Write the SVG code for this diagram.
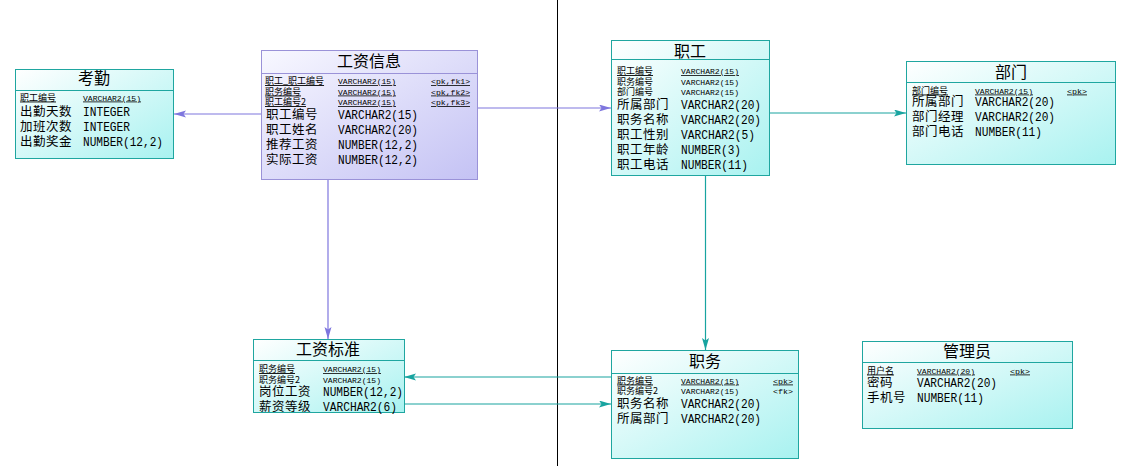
<svg xmlns="http://www.w3.org/2000/svg" width="1126" height="466" viewBox="0 0 1126 466">
<style>
.box{fill:url(#gc);stroke:#1fa6a0;stroke-width:1}
.boxp{fill:url(#gp);stroke:#9a92d8;stroke-width:1}
.dv{stroke:#1fa6a0;stroke-width:1}
.dvp{stroke:#9a92d8;stroke-width:1}
.t{font-family:"Noto Sans CJK SC",sans-serif;font-size:16px;fill:#000;text-anchor:middle}
.s{font-family:"Noto Sans CJK SC",sans-serif;font-size:9px;fill:#000}
.st{font-family:"Liberation Mono",monospace;font-size:8px;fill:#000}
.b{font-family:"Noto Sans CJK SC",sans-serif;font-size:12.5px;fill:#000;letter-spacing:0.5px}
.bt{font-family:"Liberation Mono",monospace;font-size:12px;fill:#000}
.u{text-decoration:underline}
.lp{stroke:#7e76de;stroke-width:1.2;fill:none}
.lt{stroke:#18a4a0;stroke-width:1.2;fill:none}
</style>
<defs>
<linearGradient id="gc" x1="0" y1="0" x2="1" y2="1">
<stop offset="0" stop-color="#ffffff"/>
<stop offset="1" stop-color="#a8f2f0"/>
</linearGradient>
<linearGradient id="gp" x1="0" y1="0" x2="1" y2="1">
<stop offset="0" stop-color="#f8f8ff"/>
<stop offset="1" stop-color="#c4c2f4"/>
</linearGradient>
<marker id="ap" markerUnits="userSpaceOnUse" markerWidth="13" markerHeight="8" refX="12" refY="3.5" orient="auto">
<path d="M0,0 L12,3.5 L0,7 L2.5,3.5 Z" fill="#7e76de"/>
</marker>
<marker id="at" markerUnits="userSpaceOnUse" markerWidth="13" markerHeight="8" refX="12" refY="3.5" orient="auto">
<path d="M0,0 L12,3.5 L0,7 L2.5,3.5 Z" fill="#18a4a0"/>
</marker>
</defs>
<rect width="1126" height="466" fill="#ffffff"/>
<line x1="557.5" y1="0" x2="557.5" y2="466" stroke="#000" stroke-width="1"/>

<g id="connectors">
<line class="lp" x1="261" y1="114" x2="174" y2="114" marker-end="url(#ap)"/>
<line class="lp" x1="477" y1="108" x2="611" y2="108" marker-end="url(#ap)"/>
<line class="lp" x1="328" y1="179" x2="328" y2="339" marker-end="url(#ap)"/>
<line class="lt" x1="769" y1="113" x2="906" y2="113" marker-end="url(#at)"/>
<line class="lt" x1="705.5" y1="175" x2="705.5" y2="350" marker-end="url(#at)"/>
<line class="lt" x1="611" y1="377" x2="404" y2="377" marker-end="url(#at)"/>
<line class="lt" x1="404" y1="404" x2="611" y2="404" marker-end="url(#at)"/>
</g>

<g id="kaoqin">
<rect class="box" x="15.5" y="69.5" width="158" height="89"/>
<line class="dv" x1="15.5" y1="90.5" x2="173.5" y2="90.5"/>
<text class="t" x="94" y="84">考勤</text>
<text class="s u" x="20" y="100.5">职工编号</text>
<text class="st u" x="83" y="100.5" textLength="58" lengthAdjust="spacingAndGlyphs">VARCHAR2(15)</text>
<text class="b" x="20" y="116">出勤天数</text>
<text class="bt" x="83" y="116" textLength="47" lengthAdjust="spacingAndGlyphs">INTEGER</text>
<text class="b" x="20" y="131">加班次数</text>
<text class="bt" x="83" y="131" textLength="47" lengthAdjust="spacingAndGlyphs">INTEGER</text>
<text class="b" x="20" y="146">出勤奖金</text>
<text class="bt" x="83" y="146" textLength="80" lengthAdjust="spacingAndGlyphs">NUMBER(12,2)</text>
</g>

<g id="gongzixinxi">
<rect class="boxp" x="261.5" y="50.5" width="216" height="129"/>
<line class="dvp" x1="261.5" y1="73.5" x2="477.5" y2="73.5"/>
<text class="t" x="369" y="67">工资信息</text>
<text class="s u" x="265" y="84">职工_职工编号</text>
<text class="st u" x="338" y="84" textLength="58" lengthAdjust="spacingAndGlyphs">VARCHAR2(15)</text>
<text class="st u" x="431" y="84" textLength="39" lengthAdjust="spacingAndGlyphs">&lt;pk,fk1&gt;</text>
<text class="s u" x="265" y="94.5">职务编号</text>
<text class="st u" x="338" y="94.5" textLength="58" lengthAdjust="spacingAndGlyphs">VARCHAR2(15)</text>
<text class="st u" x="431" y="94.5" textLength="39" lengthAdjust="spacingAndGlyphs">&lt;pk,fk2&gt;</text>
<text class="s u" x="265" y="105">职工编号2</text>
<text class="st u" x="338" y="105" textLength="58" lengthAdjust="spacingAndGlyphs">VARCHAR2(15)</text>
<text class="st u" x="431" y="105" textLength="39" lengthAdjust="spacingAndGlyphs">&lt;pk,fk3&gt;</text>
<text class="b" x="266" y="119">职工编号</text>
<text class="bt" x="338" y="119" textLength="80" lengthAdjust="spacingAndGlyphs">VARCHAR2(15)</text>
<text class="b" x="266" y="134">职工姓名</text>
<text class="bt" x="338" y="134" textLength="80" lengthAdjust="spacingAndGlyphs">VARCHAR2(20)</text>
<text class="b" x="266" y="149">推荐工资</text>
<text class="bt" x="338" y="149" textLength="80" lengthAdjust="spacingAndGlyphs">NUMBER(12,2)</text>
<text class="b" x="266" y="164">实际工资</text>
<text class="bt" x="338" y="164" textLength="80" lengthAdjust="spacingAndGlyphs">NUMBER(12,2)</text>
</g>

<g id="zhigong">
<rect class="box" x="611.5" y="40.5" width="158" height="135"/>
<line class="dv" x1="611.5" y1="59.5" x2="769.5" y2="59.5"/>
<text class="t" x="690" y="57">职工</text>
<text class="s u" x="617" y="74">职工编号</text>
<text class="st u" x="681" y="74" textLength="58" lengthAdjust="spacingAndGlyphs">VARCHAR2(15)</text>
<text class="s" x="617" y="84.5">职务编号</text>
<text class="st" x="681" y="84.5" textLength="58" lengthAdjust="spacingAndGlyphs">VARCHAR2(15)</text>
<text class="s" x="617" y="95">部门编号</text>
<text class="st" x="681" y="95" textLength="58" lengthAdjust="spacingAndGlyphs">VARCHAR2(15)</text>
<text class="b" x="617" y="109">所属部门</text>
<text class="bt" x="681" y="109" textLength="80" lengthAdjust="spacingAndGlyphs">VARCHAR2(20)</text>
<text class="b" x="617" y="124">职务名称</text>
<text class="bt" x="681" y="124" textLength="80" lengthAdjust="spacingAndGlyphs">VARCHAR2(20)</text>
<text class="b" x="617" y="139">职工性别</text>
<text class="bt" x="681" y="139" textLength="74" lengthAdjust="spacingAndGlyphs">VARCHAR2(5)</text>
<text class="b" x="617" y="154">职工年龄</text>
<text class="bt" x="681" y="154" textLength="60" lengthAdjust="spacingAndGlyphs">NUMBER(3)</text>
<text class="b" x="617" y="169">职工电话</text>
<text class="bt" x="681" y="169" textLength="67" lengthAdjust="spacingAndGlyphs">NUMBER(11)</text>
</g>

<g id="bumen">
<rect class="box" x="906.5" y="61.5" width="209" height="103"/>
<line class="dv" x1="906.5" y1="82.5" x2="1115.5" y2="82.5"/>
<text class="t" x="1011" y="78">部门</text>
<text class="s u" x="912" y="93.5">部门编号</text>
<text class="st u" x="975" y="93.5" textLength="58" lengthAdjust="spacingAndGlyphs">VARCHAR2(15)</text>
<text class="st u" x="1067" y="93.5" textLength="20" lengthAdjust="spacingAndGlyphs">&lt;pk&gt;</text>
<text class="b" x="912" y="106">所属部门</text>
<text class="bt" x="975" y="106" textLength="80" lengthAdjust="spacingAndGlyphs">VARCHAR2(20)</text>
<text class="b" x="912" y="121">部门经理</text>
<text class="bt" x="975" y="121" textLength="80" lengthAdjust="spacingAndGlyphs">VARCHAR2(20)</text>
<text class="b" x="912" y="136">部门电话</text>
<text class="bt" x="975" y="136" textLength="67" lengthAdjust="spacingAndGlyphs">NUMBER(11)</text>
</g>

<g id="gongzibiaozhun">
<rect class="box" x="253.5" y="339.5" width="151" height="73"/>
<line class="dv" x1="253.5" y1="360.5" x2="404.5" y2="360.5"/>
<text class="t" x="328" y="355">工资标准</text>
<text class="s u" x="259" y="372">职务编号</text>
<text class="st u" x="323" y="372" textLength="58" lengthAdjust="spacingAndGlyphs">VARCHAR2(15)</text>
<text class="s" x="259" y="382.5">职务编号2</text>
<text class="st" x="323" y="382.5" textLength="58" lengthAdjust="spacingAndGlyphs">VARCHAR2(15)</text>
<text class="b" x="259" y="396">岗位工资</text>
<text class="bt" x="323" y="396" textLength="80" lengthAdjust="spacingAndGlyphs">NUMBER(12,2)</text>
<text class="b" x="259" y="411">薪资等级</text>
<text class="bt" x="323" y="411" textLength="74" lengthAdjust="spacingAndGlyphs">VARCHAR2(6)</text>
</g>

<g id="zhiwu">
<rect class="box" x="611.5" y="350.5" width="187" height="108"/>
<line class="dv" x1="611.5" y1="373.5" x2="798.5" y2="373.5"/>
<text class="t" x="705" y="367">职务</text>
<text class="s u" x="617" y="383.5">职务编号</text>
<text class="st u" x="681" y="383.5" textLength="58" lengthAdjust="spacingAndGlyphs">VARCHAR2(15)</text>
<text class="st u" x="773" y="383.5" textLength="20" lengthAdjust="spacingAndGlyphs">&lt;pk&gt;</text>
<text class="s" x="617" y="394">职务编号2</text>
<text class="st" x="681" y="394" textLength="58" lengthAdjust="spacingAndGlyphs">VARCHAR2(15)</text>
<text class="st" x="773" y="394" textLength="20" lengthAdjust="spacingAndGlyphs">&lt;fk&gt;</text>
<text class="b" x="617" y="408">职务名称</text>
<text class="bt" x="681" y="408" textLength="80" lengthAdjust="spacingAndGlyphs">VARCHAR2(20)</text>
<text class="b" x="617" y="423">所属部门</text>
<text class="bt" x="681" y="423" textLength="80" lengthAdjust="spacingAndGlyphs">VARCHAR2(20)</text>
</g>

<g id="guanliyuan">
<rect class="box" x="862.5" y="341.5" width="210" height="87"/>
<line class="dv" x1="862.5" y1="362.5" x2="1072.5" y2="362.5"/>
<text class="t" x="967" y="357">管理员</text>
<text class="s u" x="867" y="373.5">用户名</text>
<text class="st u" x="917" y="373.5" textLength="58" lengthAdjust="spacingAndGlyphs">VARCHAR2(20)</text>
<text class="st u" x="1010" y="373.5" textLength="20" lengthAdjust="spacingAndGlyphs">&lt;pk&gt;</text>
<text class="b" x="867" y="387">密码</text>
<text class="bt" x="917" y="387" textLength="80" lengthAdjust="spacingAndGlyphs">VARCHAR2(20)</text>
<text class="b" x="867" y="402">手机号</text>
<text class="bt" x="917" y="402" textLength="67" lengthAdjust="spacingAndGlyphs">NUMBER(11)</text>
</g>
</svg>
